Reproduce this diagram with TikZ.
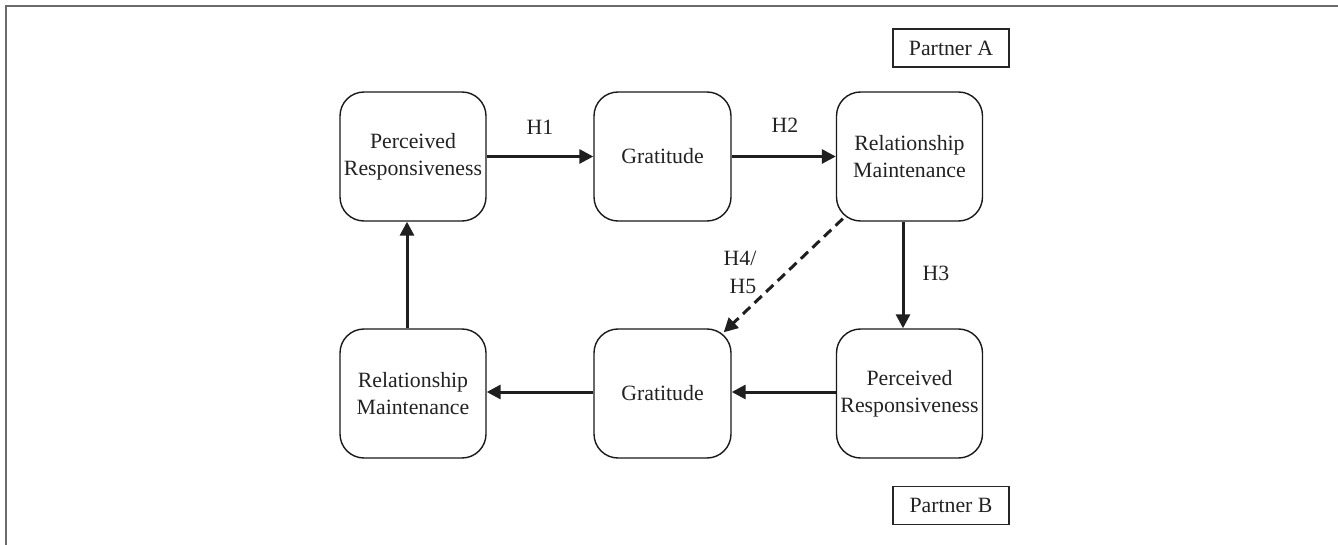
\documentclass[tikz,border=0pt]{standalone}
\usepackage{fontspec}
\setmainfont{Liberation Serif}
\usetikzlibrary{arrows.meta,calc}
\definecolor{txt}{HTML}{222222}
\definecolor{frame}{HTML}{6B6B6B}
\tikzset{
  box/.style={draw=black!90, line width=0.7pt, rounded corners=12pt, minimum width=73pt, minimum height=64.5pt, align=center, inner sep=1pt, text=txt, font=\fontsize{10.9}{13.5}\selectfont},
  gbox/.style={box, minimum width=68.5pt},
  lab/.style={text=txt, font=\fontsize{10.9}{13.5}\selectfont, inner sep=0pt},
  pbox/.style={draw=black!85, line width=0.6pt, minimum width=58pt, minimum height=19pt, inner sep=0pt, text=txt, font=\fontsize{10.9}{13.5}\selectfont},
  arr/.style={line width=1.5pt, draw=black!88, -{Triangle[length=7pt,width=7pt]}},
  darr/.style={arr, dash pattern=on 5pt off 3pt},
}
\begin{document}
\begin{tikzpicture}[x=0.5pt,y=-0.5pt]
\useasboundingbox (0,0) rectangle (1338,545);
\draw[frame, line width=1pt] (6,545) -- (6,6) -- (1338,6);
% top row (Partner A)
\node[box]  (prA) at (413,156.5) {Perceived\\Responsiveness};
\node[gbox] (grA) at (662.5,156.5) {Gratitude};
\node[box]  (rmA) at (909.5,156.5) {Relationship\\Maintenance};
% bottom row (Partner B)
\node[box]  (rmB) at (413,393.5) {Relationship\\Maintenance};
\node[gbox] (grB) at (662.5,393.5) {Gratitude};
\node[box]  (prB) at (909.5,393.5) {Perceived\\Responsiveness};
% partner labels
\node[pbox] (pa) at (951,48) {Partner A};
\node[pbox] (pb) at (951,505.5) {Partner B};
% arrows
\draw[arr] (prA.east) -- (grA.west);
\draw[arr] (grA.east) -- (rmA.west);
\draw[arr] ($(rmA.south)+(-6.5,0)$) -- ($(prB.north)+(-6.5,0)$);
\draw[arr] ($(prB.west)+(0,-1.5)$) -- ($(grB.east)+(0,-1.5)$);
\draw[arr] ($(grB.west)+(0,-1.5)$) -- ($(rmB.east)+(0,-1.5)$);
\draw[arr] ($(rmB.north)+(-6,0)$) -- ($(prA.south)+(-6,0)$);
\draw[darr] ($(rmA.south west)+(7,-3)$) -- ($(grB.north east)+(-8,4)$);
% labels
\node[lab] (h1) at (540,127) {H1};
\node[lab] (h2) at (785,125) {H2};
\node[lab] (h3) at (936,273) {H3};
\node[lab, align=right, font=\fontsize{10.9}{14}\selectfont] (h45) at (740,272) {H4/\\H5};
\end{tikzpicture}
\end{document}
